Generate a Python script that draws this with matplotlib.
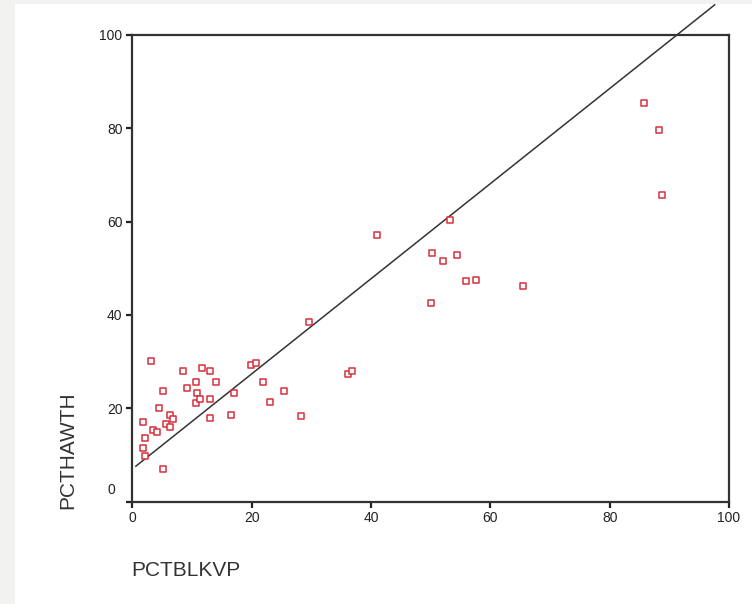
import matplotlib.pyplot as plt
from matplotlib.patches import Rectangle

plt.rcParams['font.family'] = ['Liberation Sans', 'DejaVu Sans']

# percent black KVP vote vs percent Hawth
pct_blkvp = [3.1, 1.8, 2.1, 1.8, 2.1, 3.4, 4.2, 4.5, 5.2, 5.2,
             5.6, 6.3, 6.3, 6.9, 8.5, 9.1, 10.7, 10.9, 10.6, 11.7,
             11.3, 13.0, 13.0, 13.0, 14.0, 16.6, 17.1, 19.9, 20.7, 21.9,
             23.1, 25.4, 28.3, 36.2, 36.8, 29.6, 41.0, 50.0, 50.3, 52.1,
             53.2, 54.4, 55.9, 57.6, 65.5, 85.8, 88.3, 88.8]
pct_hawth = [30.2, 17.0, 13.7, 11.6, 9.7, 15.4, 15.0, 20.0, 23.6, 7.1,
             16.6, 18.6, 15.9, 17.6, 27.9, 24.3, 25.6, 23.3, 21.1, 28.6,
             22.0, 27.9, 21.9, 18.0, 25.6, 18.6, 23.3, 29.3, 29.6, 25.6,
             21.3, 23.6, 18.3, 27.3, 27.9, 38.5, 57.1, 42.5, 53.2, 51.5,
             60.3, 52.8, 47.2, 47.5, 46.2, 85.3, 79.6, 65.7]

# fit line end points (runs past the frame)
fit_x = [0.6, 97.6]
fit_y = [7.6, 106.4]

ticks = [0, 20, 40, 60, 80, 100]

fig = plt.figure(figsize=(7.52, 6.04), dpi=100, facecolor='#f2f2f0')
fig.patches.append(Rectangle((15 / 752, 0), 1, 1 - 4 / 604, transform=fig.transFigure,
                             facecolor='white', edgecolor='none', zorder=-1))
ax = fig.add_axes([0.1759, 0.1694, 0.7935, 0.7731])

ax.plot(fit_x, fit_y, color='#333333', lw=1.1, clip_on=False, zorder=2)
ax.scatter(pct_blkvp, pct_hawth, marker='s', s=18, facecolors='white',
           edgecolors='#d6303c', linewidths=1.1, zorder=3)

ax.set_xlim(0, 100)
ax.set_ylim(0, 100)
ax.set_xticks(ticks)
ax.set_yticks(ticks)
ax.set_yticklabels([''] + [str(t) for t in ticks[1:]])
ax.text(-0.028, 0.025, '0', transform=ax.transAxes, ha='right', va='center',
        fontsize=10, color='#222222')
ax.tick_params(direction='out', length=4, width=1.6, labelsize=10,
               colors='#222222', pad=3)
for side in ax.spines.values():
    side.set_linewidth(1.6)
    side.set_color('#333333')

fig.text(131 / 752, 1 - 570 / 604, 'PCTBLKVP', fontsize=15, color='#333333',
         ha='left', va='center')
fig.text(68 / 752, 1 - 450 / 604, 'PCTHAWTH', fontsize=15, color='#333333',
         rotation=90, ha='center', va='center')

fig.savefig('out.png', dpi=100, facecolor=fig.get_facecolor())
